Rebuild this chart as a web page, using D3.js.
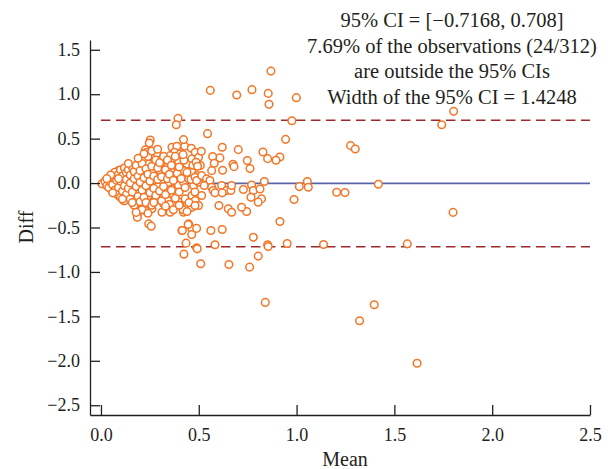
<!DOCTYPE html>
<html><head><meta charset="utf-8">
<script src="https://cdn.jsdelivr.net/npm/d3@7"></script>
<style>body{margin:0;background:#fff}svg{display:block}</style>
</head><body>
<svg id="chart" width="611" height="469"></svg>
<script>
// ---- data ----
const xTicks = [0, 0.5, 1.0, 1.5, 2.0, 2.5];
const yTicks = [1.5, 1.0, 0.5, 0.0, -0.5, -1.0, -1.5, -2.0, -2.5];
const meanDiff = -0.0044;
const lowerLimit = -0.7168;
const upperLimit = 0.708;
const annotationLines = [
  "95% CI = [\u22120.7168, 0.708]",
  "7.69% of the observations (24/312)",
  "are outside the 95% CIs",
  "Width of the 95% CI = 1.4248"
];
// [mean, diff] pairs
const clusterPoints = [
 [0.005,-0.009],[0.031,0.009],[0.048,0.066],[0.073,0.084],[0.09,0.14],[0.116,0.159],[0.141,0.178],[0.158,0.14],[0.184,0.159],[0.124,0.103],
 [0.099,0.047],[0.065,-0.028],[0.082,-0.066],[0.107,-0.103],[0.133,-0.084],[0.158,-0.066],[0.193,-0.028],[0.21,0.047],[0.227,0.103],[0.252,0.066],
 [0.278,0.028],[0.295,-0.028],[0.312,0.028],[0.346,0.009],[0.371,-0.066],[0.397,-0.028],[0.422,0.009],[0.448,0.047],[0.474,-0.028],[0.499,0.009],
 [0.056,-0.084],[0.09,-0.14],[0.116,-0.197],[0.141,-0.14],[0.167,-0.197],[0.193,-0.122],[0.218,-0.178],[0.244,-0.14],[0.269,-0.215],[0.295,-0.178],
 [0.32,-0.234],[0.346,-0.197],[0.371,-0.14],[0.397,-0.215],[0.431,-0.178],[0.465,-0.14],[0.482,-0.197],
 [0.21,-0.253],[0.227,-0.309],[0.261,-0.29],[0.312,-0.328],[0.354,-0.328],[0.405,-0.253],[0.422,-0.328],[0.465,-0.272],[0.499,-0.253],
 [0.244,-0.459],[0.257,-0.485],[0.448,-0.459],[0.414,-0.534],[0.465,-0.515],[0.186,-0.365],[0.186,-0.384],
 [0.394,0.728],[0.385,0.657],[0.252,0.485],[0.247,0.451],[0.227,0.373],[0.233,0.346],[0.257,0.309],[0.286,0.335],[0.363,0.403],[0.388,0.414],
 [0.428,0.414],[0.462,0.391],[0.422,0.489],[0.376,0.346],[0.405,0.328],[0.354,0.309],[0.32,0.234],[0.337,0.178],[0.371,0.197],[0.397,0.242],
 [0.44,0.215],[0.465,0.272],[0.482,0.346],[0.499,0.29],[0.508,0.197],[0.218,0.253],[0.244,0.215],[0.278,0.197],[0.303,0.14],[0.329,0.103],
 [0.363,0.122],[0.388,0.103],[0.422,0.14],[0.465,0.122],[0.491,0.084],[0.424,0.256]
];
const denseExtra = [
 [0.02,0.02],[0.03,-0.03],[0.04,0.04],[0.04,-0.05],[0.05,0.01],[0.06,0.07],[0.06,-0.02],[0.07,-0.08],[0.07,0.12],[0.08,0.03],
 [0.08,-0.12],[0.09,0.10],[0.09,-0.05],[0.10,0.15],[0.10,-0.16],[0.10,0.02],[0.11,0.08],[0.11,-0.09],[0.12,0.17],[0.12,-0.03],
 [0.12,-0.20],[0.13,0.12],[0.13,0.04],[0.13,-0.13],[0.14,0.15],[0.14,-0.06],[0.15,0.09],[0.15,-0.18],[0.15,0.00],[0.16,0.18],
 [0.16,-0.10],[0.17,0.05],[0.17,-0.25],[0.17,0.13],[0.18,-0.04],[0.18,0.20],[0.19,-0.15],[0.19,0.08],[0.20,-0.21],[0.20,0.14],
 [0.20,0.01],[0.21,-0.08],[0.21,0.22],[0.22,-0.16],[0.22,0.06],[0.23,0.16],[0.23,-0.03],[0.23,-0.22],[0.24,0.10],[0.24,0.30],
 [0.25,-0.11],[0.25,0.02],[0.26,0.19],[0.26,-0.25],[0.27,0.08],[0.27,-0.06],[0.28,0.26],[0.28,-0.14],[0.29,0.04],[0.29,0.17],
 [0.30,-0.09],[0.30,0.23],[0.31,-0.20],[0.31,0.07],[0.32,0.30],[0.32,-0.04],[0.33,0.15],[0.33,-0.13],[0.34,0.05],[0.34,0.26],
 [0.35,-0.24],[0.35,0.10],[0.36,-0.08],[0.36,0.20],[0.37,0.03],[0.38,-0.17],[0.38,0.30],[0.39,0.11],[0.40,-0.10],[0.40,0.18],
 [0.41,0.05],[0.42,-0.30],[0.42,0.32],[0.43,-0.05],[0.44,0.12],[0.45,-0.22],[0.46,0.04],[0.47,0.20],[0.48,-0.10],[0.22,0.33],
 [0.26,0.36],[0.29,0.38],[0.19,0.28],[0.14,0.22],[0.11,-0.18],[0.09,0.05],[0.05,0.09],[0.03,0.05],[0.06,-0.11],[0.16,-0.22],
 [0.21,-0.30],[0.24,-0.34],[0.27,-0.22],[0.33,-0.26],[0.37,-0.30],[0.40,-0.25],[0.44,-0.32],[0.18,-0.33]
];
const midPoints = [
 [0.869,1.26],[0.559,1.043],[0.694,0.991],[0.772,1.051],[0.855,1.009],[0.859,0.886],[0.999,0.961],[0.976,0.702],[0.545,0.556],[0.944,0.492],
 [0.62,0.403],[0.702,0.376],[0.828,0.35],[0.852,0.275],[0.915,0.294],[0.895,0.256],[0.748,0.253],[0.762,0.163],[0.675,0.211],[0.68,0.185],
 [0.622,0.144],[0.608,0.283],[0.571,0.298],[0.579,0.223],[0.513,0.358],[0.486,0.234],[0.494,0.19],[0.566,0.14],
 [0.481,0.066],[0.489,0.028],[0.515,0.084],[0.54,0.047],[0.557,0.028],[0.528,-0.028],[0.566,-0.047],[0.574,-0.084],[0.583,-0.11],[0.617,-0.028],
 [0.642,-0.084],[0.664,-0.084],[0.668,-0.028],[0.728,-0.073],[0.77,-0.021],[0.779,-0.084],[0.813,-0.066],[0.835,0.017],[0.767,-0.159],[0.821,-0.178],
 [0.804,-0.215],[0.745,-0.32],[0.719,-0.272],[0.651,-0.29],[0.668,-0.328],[0.603,-0.253],[0.515,-0.14],[0.481,-0.253],[0.62,-0.11],
 [0.416,-0.534],[0.446,-0.466],[0.489,-0.51],[0.464,-0.58],[0.435,-0.676],[0.424,-0.80],[0.489,-0.728],[0.492,-0.74],[0.51,-0.908],[0.562,-0.534],
 [0.62,-0.522],[0.583,-0.694],[0.654,-0.916],[0.779,-0.609],[0.804,-0.822],[0.76,-0.946],[0.852,-0.694],[0.855,-0.713],[0.84,-1.343],[0.915,-0.433],
 [0.952,-0.68],[0.987,-0.185],[1.014,-0.04],[1.055,0.017],[1.06,-0.047]
];
const farPoints = [
 [1.803,0.807],[1.742,0.657],[1.276,0.421],[1.30,0.384],[1.205,-0.103],[1.247,-0.107],[1.418,-0.013],[1.80,-0.33],
 [1.138,-0.691],[1.566,-0.684],[1.397,-1.369],[1.322,-1.549],[1.616,-2.028]
];

// ---- drawing ----
const svg = d3.select("#chart");
const font = "'Liberation Serif', 'Times New Roman', serif";
const ink = "#231f20";
const x = d3.scaleLinear().domain([-0.056, 2.5]).range([90, 590]);
const y = d3.scaleLinear().domain([-2.61, 1.61]).range([415, 40]);

// reference lines
svg.append("line").attr("x1", x(0)).attr("x2", x(2.5)).attr("y1", y(meanDiff)).attr("y2", y(meanDiff))
  .attr("stroke", "#5a64aa").attr("stroke-width", 1.7);
[upperLimit, lowerLimit].forEach(v => {
  svg.append("line").attr("x1", x(0)).attr("x2", x(2.5)).attr("y1", y(v)).attr("y2", y(v))
    .attr("stroke", "#9c2a2e").attr("stroke-width", 1.5).attr("stroke-dasharray", "9.5,5.5");
});

// points
const all = clusterPoints.concat(denseExtra, midPoints, farPoints);
svg.append("g").selectAll("circle").data(all).join("circle")
  .attr("cx", d => x(d[0])).attr("cy", d => y(d[1])).attr("r", 3.8)
  .attr("fill", "#fff").attr("stroke", "#f37526").attr("stroke-width", 1.5);

// axes
const fmt = d3.format(".1f");
const gy = svg.append("g").attr("transform", "translate(90,0)")
  .call(d3.axisLeft(y).tickValues(yTicks).tickFormat(fmt).tickSize(-10).tickSizeOuter(0).tickPadding(10));
const gx = svg.append("g").attr("transform", "translate(0,415)")
  .call(d3.axisBottom(x).tickValues(xTicks).tickFormat(fmt).tickSize(-10).tickSizeOuter(0).tickPadding(13));
[gx, gy].forEach(g => {
  g.select(".domain").attr("stroke", ink).attr("stroke-width", 1.3);
  g.selectAll(".tick line").attr("stroke", ink).attr("stroke-width", 1.3);
  g.selectAll(".tick text").attr("fill", ink).style("font-family", font).style("font-size", "18px");
});

// axis titles
svg.append("text").attr("x", 345).attr("y", 466).attr("text-anchor", "middle")
  .style("font-family", font).style("font-size", "20px").attr("fill", ink).text("Mean");
svg.append("text").attr("transform", "translate(33,227) rotate(-90)").attr("text-anchor", "middle")
  .style("font-family", font).style("font-size", "20px").attr("fill", ink).text("Diff");

// annotation
svg.append("g").selectAll("text").data(annotationLines).join("text")
  .attr("x", 452).attr("y", (d, i) => 27 + i * 25.5).attr("text-anchor", "middle")
  .style("font-family", font).style("font-size", "20.5px").attr("fill", ink).text(d => d);
</script>
</body></html>
